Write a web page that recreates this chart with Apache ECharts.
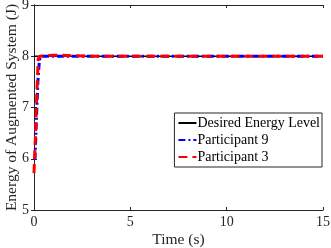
<!DOCTYPE html>
<html><head><meta charset="utf-8">
<script src="https://cdn.jsdelivr.net/npm/echarts@6/dist/echarts.min.js"></script>
<style>html,body{margin:0;padding:0;background:#fff}#c{width:331px;height:248px}</style>
</head><body><div id="c"></div>
<script>
const xTicks = [0, 5, 10, 15];
const yTicks = [5, 6, 7, 8, 9];
const desiredT = [0, 15];
const desiredE = [8, 8];
const p9T = [0.05, 0.12, 0.2, 0.28, 0.35, 0.6, 1, 2, 5, 10, 15];
const p9E = [5.98, 6.7, 7.5, 7.92, 8.0, 8.0, 8.0, 8.0, 8.0, 8.0, 8.0];
const p3T = [0.0, 0.08, 0.15, 0.22, 0.3, 0.6, 1, 1.5, 2, 3, 5, 10, 15];
const p3E = [5.72, 6.5, 7.3, 7.95, 8.0, 8.01, 8.02, 8.02, 8.01, 8.0, 8.0, 8.0, 8.0];
const seriesNames = ['Desired Energy Level', 'Participant 9', 'Participant 3'];

const font = 'Liberation Serif';
const chart = echarts.init(document.getElementById('c'));
const zip = (a, b) => a.map((v, i) => [v, b[i]]);
const axisCommon = {
  axisLine: {show: true, lineStyle: {color: '#262626', width: 1}},
  axisTick: {show: true, inside: true, length: 3, lineStyle: {color: '#262626'}},
  splitLine: {show: false}
};
chart.setOption({
  animation: false,
  backgroundColor: '#fff',
  grid: {left: 34, right: 8, top: 5, bottom: 38, containLabel: false, outerBoundsMode: 'none'},
  xAxis: [
    Object.assign({type: 'value', min: xTicks[0], max: xTicks[xTicks.length-1], interval: 5, position: 'bottom',
      name: 'Time (s)', nameLocation: 'middle', nameGap: 22, nameMoveOverlap: false,
      nameTextStyle: {fontFamily: font, fontSize: 15.5, color: '#262626'},
      axisLabel: {fontFamily: font, fontSize: 14, color: '#262626', margin: 5}}, axisCommon),
    Object.assign({type: 'value', min: 0, max: 15, interval: 5, position: 'top', axisLabel: {show: false}}, axisCommon)
  ],
  yAxis: [
    Object.assign({type: 'value', min: yTicks[0], max: yTicks[yTicks.length-1], interval: 1, position: 'left',
      name: 'Energy of Augmented System (J)', nameLocation: 'middle', nameGap: 14, nameMoveOverlap: false,
      nameTextStyle: {fontFamily: font, fontSize: 15.5, color: '#262626'},
      axisLabel: {fontFamily: font, fontSize: 14, color: '#262626', margin: 5}}, axisCommon),
    Object.assign({type: 'value', min: 5, max: 9, interval: 1, position: 'right', axisLabel: {show: false}}, axisCommon)
  ],
  legend: {
    orient: 'vertical', right: 9, top: 113, itemGap: 0, itemWidth: 18, itemHeight: 10,
    padding: [1.5, 2, 1.5, 3],
    borderColor: '#262626', borderWidth: 1, borderRadius: 0, backgroundColor: '#fff',
    itemStyle: {opacity: 0},
    textStyle: {fontFamily: font, fontSize: 14, color: '#000', lineHeight: 17, padding: [0, 0, 0, -4]},
    data: seriesNames
  },
  series: [
    {name: seriesNames[0], type: 'line', data: zip(desiredT, desiredE), symbol: 'none', z: 1,
      lineStyle: {color: '#000', width: 1.5}, itemStyle: {color: '#000'}},
    {name: seriesNames[1], type: 'line', data: zip(p9T, p9E), symbol: 'none', z: 2,
      lineStyle: {color: '#0000FF', width: 3, type: [7, 3, 2, 3]}, itemStyle: {color: '#0000FF'}},
    {name: seriesNames[2], type: 'line', data: zip(p3T, p3E), symbol: 'none', z: 3,
      lineStyle: {color: '#FF0000', width: 3, type: [9, 5]}, itemStyle: {color: '#FF0000'}}
  ]
});
</script></body></html>
